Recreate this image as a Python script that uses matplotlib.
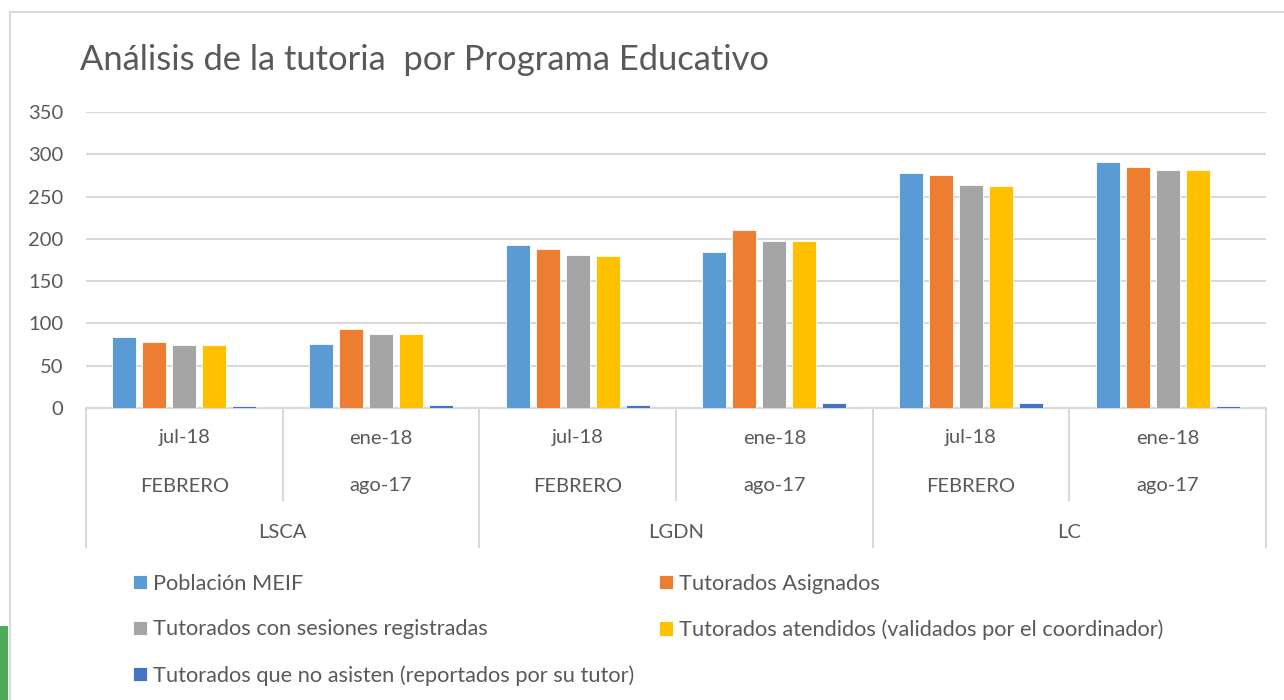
import matplotlib
matplotlib.use("Agg")
import matplotlib.pyplot as plt
from matplotlib.patches import Rectangle
from matplotlib.lines import Line2D
import numpy as np

plt.rcParams['font.family'] = ['Lato', 'DejaVu Sans']

title = "Análisis de la tutoria  por Programa Educativo"
periods = ["jul-18", "ene-18", "jul-18", "ene-18", "jul-18", "ene-18"]
subperiods = ["FEBRERO", "ago-17", "FEBRERO", "ago-17", "FEBRERO", "ago-17"]
programs = ["LSCA", "LGDN", "LC"]
series_names = [
    "Población MEIF",
    "Tutorados Asignados",
    "Tutorados con sesiones registradas",
    "Tutorados atendidos (validados por el coordinador)",
    "Tutorados que no asisten (reportados por su tutor)",
]
poblacion = [84, 76, 193, 184, 278, 291]
asignados = [78, 93, 188, 210, 276, 285]
con_sesiones = [74, 88, 181, 197, 264, 282]
atendidos = [74, 88, 180, 197, 263, 282]
no_asisten = [2, 4, 4, 6, 6, 2]
colors = ["#5B9BD5", "#ED7D31", "#A5A5A5", "#FFC000", "#4472C4"]

series = [poblacion, asignados, con_sesiones, atendidos, no_asisten]

W, H = 1284, 700
fig = plt.figure(figsize=(W / 100, H / 100), dpi=100)

def fx(px):
    return px / W

def fy(py):
    return 1 - py / H

# chart frame
fig.add_artist(Line2D([fx(10), 1], [fy(12), fy(12)], color="#d9d9d9", lw=1.5))
fig.add_artist(Line2D([fx(10), fx(10)], [fy(12), 0], color="#d9d9d9", lw=1.5))
fig.add_artist(Rectangle((0, 0), fx(8), fy(626), color="#4bac5a", lw=0))

ax = fig.add_axes([fx(86), fy(408), fx(1266) - fx(86), fy(112) - fy(408)])
n = len(periods)
x = np.arange(n)
pitch = 30 / 196.7
bw = 24 / 196.7
handles = []
for i, (vals, c) in enumerate(zip(series, colors)):
    offs = (i - 2) * pitch
    b = ax.bar(x + offs, vals, width=bw, color=c, edgecolor="white", linewidth=0.6, zorder=3)
    handles.append(b)

ax.set_xlim(-0.5, n - 0.5)
ax.set_ylim(0, 350)
ax.set_yticks(range(0, 351, 50))
ax.yaxis.grid(True, color="#d9d9d9", lw=1.5, zorder=0)
ax.set_axisbelow(True)
for s in ["top", "right", "left"]:
    ax.spines[s].set_visible(False)
ax.spines["bottom"].set_color("#d9d9d9")
ax.spines["bottom"].set_linewidth(1.5)
ax.tick_params(axis="y", length=0, labelsize=14.5, labelcolor="#595959", pad=16.5)
ax.tick_params(axis="x", length=0, labelbottom=False)

tr = ax.get_xaxis_transform()
axh = 408 - 112
def ay(py):
    return -(py - 408) / axh

fs = 14.5
for i in range(n):
    ax.text(i, ay(438), periods[i], transform=tr, ha="center", va="center",
            fontsize=fs, color="#595959", clip_on=False)
    ax.text(i, ay(486), subperiods[i], transform=tr, ha="center", va="center",
            fontsize=fs, color="#595959", clip_on=False)
for j, p in enumerate(programs):
    ax.text(2 * j + 0.5, ay(532), p, transform=tr, ha="center", va="center",
            fontsize=fs, color="#595959", clip_on=False)
# separators
for k in range(n + 1):
    xb = k - 0.5
    bottom = ay(547) if k % 2 == 0 else ay(500)
    ax.add_line(Line2D([xb, xb], [0, bottom], transform=tr, color="#d9d9d9",
                       lw=1.5, clip_on=False))

fig.text(fx(80), fy(60), title, fontsize=24.8, color="#595959", va="center", ha="left")

order = [0, 2, 4, 1, 3]
lfs = 15.7
leg = fig.legend([handles[i] for i in order], [series_names[i] for i in order],
                 ncol=2, loc="upper left", bbox_to_anchor=(fx(122), fy(563)),
                 frameon=False, fontsize=lfs, labelcolor="#595959",
                 handlelength=0.64, handleheight=0.64, handletextpad=0.27,
                 labelspacing=1.17, columnspacing=1.15, borderpad=0)

fig.savefig("out.png", dpi=100)
